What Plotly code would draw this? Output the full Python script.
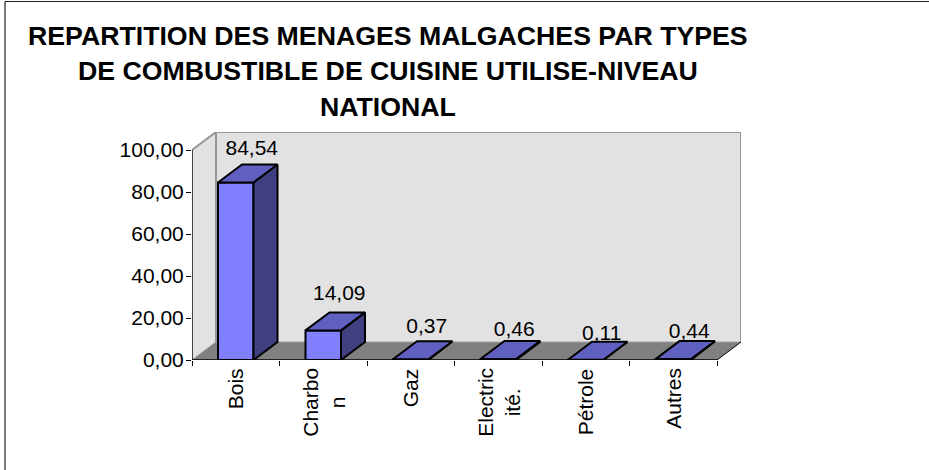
import plotly.graph_objects as go

# ---- data ----
categories = ["Bois", "Charbo<br>n", "Gaz", "Electric<br>ité.", "Pétrole", "Autres"]
values = [84.54, 14.09, 0.37, 0.46, 0.11, 0.44]
value_labels = ["84,54", "14,09", "0,37", "0,46", "0,11", "0,44"]
y_ticks = [0, 20, 40, 60, 80, 100]
y_tick_labels = ["0,00", "20,00", "40,00", "60,00", "80,00", "100,00"]
title_lines = [
    "REPARTITION DES MENAGES MALGACHES PAR TYPES",
    "DE COMBUSTIBLE DE CUISINE UTILISE-NIVEAU",
    "NATIONAL",
]

# ---- layout / style ----
W, H = 929, 470
PX_LEFT, PX_FRONT_RIGHT, PX_BACK_RIGHT = 192, 717, 741
PX_TOP, PX_BOTTOM, PX_VAL100 = 132, 360, 150
n = len(categories)
ux = (PX_FRONT_RIGHT - PX_LEFT) / n      # px per category
uy = (PX_BOTTOM - PX_VAL100) / 100       # px per value unit
dx = 24 / ux                             # depth offset in x units
dy = 18 / uy                             # depth offset in y units
bar_w = 35.5 / ux
ymax = 100 + dy
xmax = n + dx
label_offsets_px = [15, 18, 13, 10, 7, 8]
label_shift_px = 16
TITLE_PX_X = 388
TITLE_PX_Y = [36, 71, 107]
CAT_LABEL_PX_Y = 366

COL_FRONT, COL_TOP, COL_SIDE = "#8080FF", "#6060C0", "#404080"
COL_WALL, COL_FLOOR, COL_EDGE = "#E2E2E2", "#808080", "#969696"
FONT = "Liberation Sans, Arial, sans-serif"


def pap_x(px):
    return (px - PX_LEFT) / (PX_BACK_RIGHT - PX_LEFT)


def pap_y(py):
    return (PX_BOTTOM - py) / (PX_BOTTOM - PX_TOP)


def path(xs, ys):
    return "M" + " L".join(f"{x},{y}" for x, y in zip(xs, ys)) + " Z"


fig = go.Figure()


def poly(xs, ys, fill, line="#000000", width=2):
    fig.add_trace(go.Scatter(x=xs, y=ys, mode="lines", fill="toself", fillcolor=fill,
                             line=dict(color=line, width=width), hoverinfo="skip",
                             showlegend=False, cliponaxis=False))


def seg(xs, ys, color, width):
    fig.add_trace(go.Scatter(x=xs, y=ys, mode="lines", line=dict(color=color, width=width),
                             hoverinfo="skip", showlegend=False, cliponaxis=False))


def wall(xs, ys, fill):
    return dict(type="path", xref="x", yref="y", layer="below", path=path(xs, ys),
                fillcolor=fill, line=dict(width=0))


def edge(x0, y0, x1, y1, color, width):
    return dict(type="line", xref="x", yref="y", layer="below", x0=x0, y0=y0, x1=x1, y1=y1,
                line=dict(color=color, width=width))


shapes = [
    wall([0, dx, dx, 0], [0, dy, ymax, 100], COL_WALL),
    wall([dx, xmax, xmax, dx], [dy, dy, ymax, ymax], COL_WALL),
    wall([0, n, xmax, dx], [0, 0, dy, dy], COL_FLOOR),
    edge(0, 100, dx, ymax, COL_EDGE, 2),
    edge(dx, ymax, xmax, ymax, COL_EDGE, 2),
    edge(xmax, ymax, xmax, dy, COL_EDGE, 2),
    edge(dx, dy, dx, ymax, COL_EDGE, 2),
    edge(dx, dy, xmax, dy, "#A0A0A0", 1),
    edge(0, 0, dx, dy, COL_EDGE, 1),
    edge(n, 0, xmax, dy, "#000000", 1),
    # chart frame
    dict(type="line", xref="paper", yref="paper", x0=pap_x(5), x1=pap_x(5), y0=pap_y(H), y1=pap_y(1.5),
         line=dict(color="#202020", width=1.2)),
    dict(type="line", xref="paper", yref="paper", x0=pap_x(5), x1=pap_x(W), y0=pap_y(1.5), y1=pap_y(1.5),
         line=dict(color="#202020", width=1.2)),
]

# front faces of the bars
fig.add_trace(go.Bar(x=[i + 0.5 for i in range(n)], y=values, width=bar_w,
                     marker=dict(color=COL_FRONT, line=dict(color="#000000", width=2)),
                     hoverinfo="skip", showlegend=False, cliponaxis=False))

# sides and tops, derived from the values
for i, v in enumerate(values):
    x0 = i + 0.5 - bar_w / 2
    x1 = i + 0.5 + bar_w / 2
    poly([x1, x1 + dx, x1 + dx, x1, x1], [0, dy, v + dy, v, 0], COL_SIDE)
    poly([x0, x1, x1 + dx, x0 + dx, x0], [v, v, v + dy, v + dy, v], COL_TOP)

# axis lines
seg([0, 0], [0, 100], "#000000", 1.4)
seg([0, n], [0, 0], "#000000", 1.4)

# data labels
fig.add_trace(go.Scatter(
    x=[i + 0.5 + label_shift_px / ux for i in range(n)],
    y=[v + dy + off / uy for v, off in zip(values, label_offsets_px)],
    mode="text", text=value_labels, textposition="middle center",
    textfont=dict(family=FONT, size=21, color="#000000"),
    hoverinfo="skip", showlegend=False, cliponaxis=False))

# category labels: centred multi-line, rotated
annotations = [dict(x=i + 0.5, y=pap_y(CAT_LABEL_PX_Y), xref="x", yref="paper", text=c, textangle=-90,
                    showarrow=False, xanchor="center", yanchor="top", align="center",
                    font=dict(family=FONT, size=21, color="#000000"))
               for i, c in enumerate(categories)]
for line, py in zip(title_lines, TITLE_PX_Y):
    annotations.append(dict(x=pap_x(TITLE_PX_X), y=pap_y(py), xref="paper", yref="paper",
                            text="<b>" + line + "</b>",
                            showarrow=False, xanchor="center", yanchor="middle",
                            font=dict(family=FONT, size=26.7, color="#000000")))

fig.update_layout(
    width=W, height=H, autosize=False,
    paper_bgcolor="#FFFFFF", plot_bgcolor="rgba(0,0,0,0)",
    margin=dict(l=PX_LEFT, r=W - PX_BACK_RIGHT, t=PX_TOP, b=H - PX_BOTTOM, pad=0, autoexpand=False),
    xaxis=dict(range=[0, xmax], tickvals=list(range(n + 1)), ticktext=[""] * (n + 1),
               ticks="outside", ticklen=5, tickwidth=1.2, tickcolor="#000000",
               showgrid=False, zeroline=False, showline=False, fixedrange=True),
    yaxis=dict(range=[0, ymax], tickvals=y_ticks, ticktext=y_tick_labels,
               ticks="outside", ticklen=5, tickwidth=1.2, tickcolor="#000000", ticklabelstandoff=-2,
               tickfont=dict(family=FONT, size=21, color="#000000"),
               showgrid=False, zeroline=False, showline=False, fixedrange=True),
    annotations=annotations,
    shapes=shapes,
)
fig.write_html("out.html", config={"displayModeBar": False},
               post_script="document.body.style.margin='0';document.body.style.overflow='hidden';")
